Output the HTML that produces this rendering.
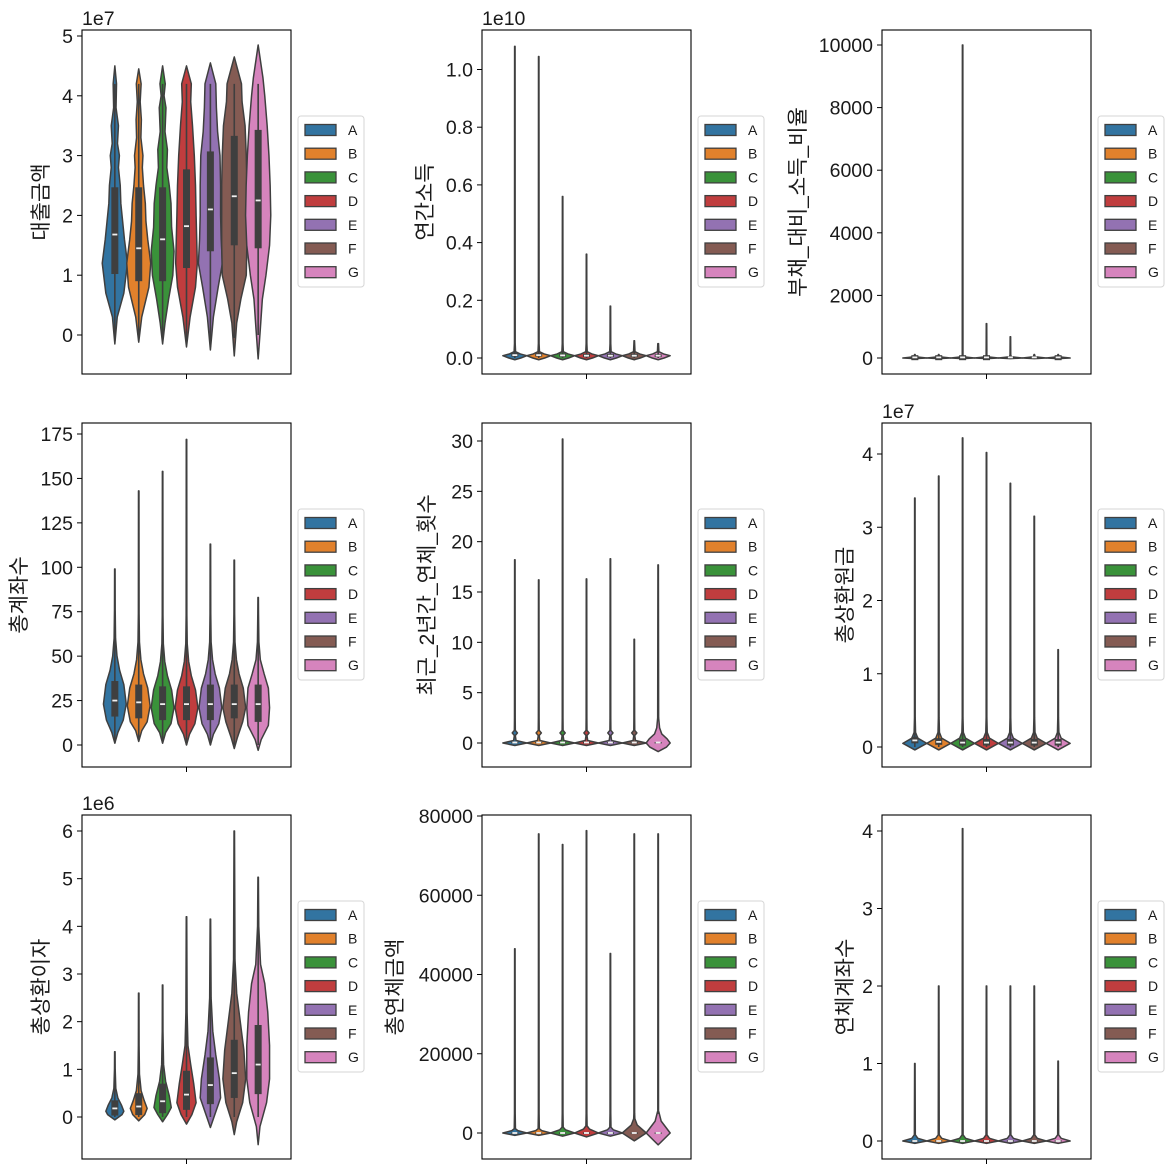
<!DOCTYPE html>
<html><head><meta charset="utf-8">
<style>
html,body{margin:0;padding:0;background:#fff;}
svg{display:block;font-family:"Liberation Sans","Noto Sans CJK KR",sans-serif;}
</style></head>
<body>
<svg id="fig" width="1175" height="1174" viewBox="0 0 1175 1174" xmlns="http://www.w3.org/2000/svg"></svg>
<script>
const categories = ["A","B","C","D","E","F","G"];
const colors = ["#3274a1","#e1812c","#3a923a","#c03d3e","#9372b2","#845b53","#d684bd"];

// ---- panel 1: 대출금액 (1e7)
const p1Ticks = [0,1,2,3,4,5];
const p1Profiles = [
 [[-0.15,0],[0.3,0.2],[0.7,0.75],[1.2,1.05],[1.6,0.8],[1.9,0.65],[2.2,0.5],[2.5,0.45],[2.8,0.3],[3.0,0.38],[3.2,0.22],[3.5,0.3],[3.8,0.1],[4.2,0.14],[4.5,0]],
 [[-0.12,0],[0.3,0.25],[0.8,0.85],[1.2,1.0],[1.6,0.75],[1.9,0.6],[2.2,0.55],[2.5,0.4],[2.8,0.3],[3.0,0.35],[3.3,0.18],[3.6,0.22],[3.9,0.12],[4.2,0.2],[4.45,0]],
 [[-0.15,0],[0.2,0.2],[0.6,0.5],[1.0,0.85],[1.4,0.95],[1.8,0.75],[2.2,0.7],[2.5,0.55],[2.8,0.35],[3.1,0.4],[3.4,0.2],[3.8,0.28],[4.0,0.12],[4.2,0.22],[4.5,0]],
 [[-0.2,0],[0.3,0.3],[0.8,0.75],[1.2,0.9],[1.6,0.85],[2.0,0.8],[2.5,0.75],[3.0,0.65],[3.5,0.5],[3.9,0.35],[4.2,0.4],[4.5,0]],
 [[-0.25,0],[0.3,0.25],[0.8,0.65],[1.2,1.0],[1.6,0.9],[2.0,0.85],[2.5,0.85],[3.0,0.8],[3.4,0.6],[3.8,0.5],[4.2,0.45],[4.55,0]],
 [[-0.35,0],[0.2,0.2],[0.6,0.55],[1.0,1.0],[1.5,1.05],[2.0,1.05],[2.5,1.05],[3.0,1.0],[3.5,0.9],[3.9,0.65],[4.2,0.6],[4.65,0]],
 [[-0.4,0],[0.1,0.18],[0.6,0.35],[1.0,0.65],[1.5,0.95],[2.0,1.05],[2.5,1.0],[3.0,0.9],[3.5,0.75],[4.0,0.55],[4.3,0.4],[4.85,0]]
];
const p1Boxes = [[1.02,1.68,2.47],[0.9,1.45,2.47],[0.9,1.6,2.47],[1.12,1.82,2.77],[1.4,2.1,3.07],[1.5,2.32,3.33],[1.45,2.25,3.43]];
const p1Whisk = [[-0.1,4.2],[-0.1,4.2],[-0.1,4.2],[-0.15,4.2],[-0.2,4.2],[-0.05,4.2],[0.0,4.2]];

// ---- panel 2: 연간소득 (1e10)
const p2Ticks = [0,0.2,0.4,0.6,0.8,1.0];
const p2Max = [1.08,1.045,0.56,0.36,0.18,0.06,0.045];
const p2Boxes = [[0.005,0.01,0.017],[0.005,0.01,0.017],[0.004,0.009,0.015],[0.003,0.008,0.014],[0.003,0.008,0.014],[0.003,0.008,0.014],[0.003,0.008,0.013]];

// ---- panel 3: 부채_대비_소득_비율
const p3Ticks = [0,2000,4000,6000,8000,10000];
const p3Max = [80,80,10000,1100,680,60,80];
const p3Boxes = [[-70,20,90],[-70,20,90],[-70,20,90],[-70,20,90],[10,20,30],[10,20,30],[-70,20,90]];

// ---- panel 4: 총계좌수
const p4Ticks = [0,25,50,75,100,125,150,175];
const p4Max = [99,143,154,172,113,104,83];
const p4Min = [1,2,1,0,0,-2,-3];
const p4Boxes = [[16,25,36],[15,24,34],[14,23,33],[14,23,33],[14,23,34],[15,23,34],[13,23,34]];

// ---- panel 5: 최근_2년간_연체_횟수
const p5Ticks = [0,5,10,15,20,25,30];
const p5Max = [18.2,16.2,30.2,16.3,18.3,10.3,17.7];

// ---- panel 6: 총상환원금 (1e7)
const p6Ticks = [0,1,2,3,4];
const p6Max = [3.4,3.7,4.22,4.02,3.6,3.15,1.33];
const p6Medians = [0.09,0.07,0.06,0.06,0.06,0.06,0.06];

// ---- panel 7: 총상환이자 (1e6)
const p7Ticks = [0,1,2,3,4,5,6];
const p7Profiles = [
 [[-0.06,0],[0.05,0.6],[0.12,0.75],[0.25,0.55],[0.4,0.25],[0.6,0.08],[1.0,0.03],[1.37,0.02]],
 [[-0.08,0],[0.05,0.5],[0.18,0.7],[0.35,0.45],[0.55,0.2],[0.9,0.06],[1.5,0.03],[2.6,0.02]],
 [[-0.1,0],[0.05,0.4],[0.2,0.72],[0.45,0.55],[0.75,0.25],[1.1,0.08],[1.8,0.03],[2.77,0.02]],
 [[-0.15,0],[0.05,0.45],[0.3,0.8],[0.7,0.6],[1.1,0.35],[1.5,0.12],[2.2,0.05],[4.2,0.02]],
 [[-0.22,0],[0.0,0.3],[0.4,0.85],[0.8,0.75],[1.3,0.45],[1.8,0.2],[2.5,0.06],[4.15,0.02]],
 [[-0.37,0],[-0.1,0.2],[0.3,0.7],[0.8,0.95],[1.4,0.8],[2.0,0.5],[2.6,0.2],[3.3,0.06],[6.0,0.02]],
 [[-0.58,0],[-0.2,0.15],[0.3,0.7],[0.8,0.95],[1.5,0.95],[2.2,0.8],[2.8,0.55],[3.2,0.2],[4.0,0.05],[5.03,0.02]]
];
const p7Boxes = [[0.03,0.18,0.35],[0.04,0.22,0.5],[0.08,0.33,0.7],[0.15,0.47,0.97],[0.27,0.67,1.25],[0.4,0.92,1.62],[0.48,1.1,1.93]];

// ---- panel 8: 총연체금액
const p8Ticks = [0,20000,40000,60000,80000];
const p8Max = [46500,75500,72800,76300,45300,75500,75500];
const p8Spread = [600,600,800,1000,800,2000,3000];

// ---- panel 9: 연체계좌수
const p9Ticks = [0,1,2,3,4];
const p9Max = [1.0,2.0,4.03,2.0,2.0,2.0,1.03];

const NS = "http://www.w3.org/2000/svg";
const svg = document.getElementById("fig");
function mk(tag, attrs, parent){ const e=document.createElementNS(NS,tag); for(const k in attrs) e.setAttribute(k,attrs[k]); (parent||svg).appendChild(e); return e; }

const AX_W = 209;
function makeAxis(x0,y0,h,v0,p0,v1,p1){
  const s=(p1-p0)/(v1-v0);
  return {x0,y0,h,y:v=>p0+(v-v0)*s,cx:i=>x0+AX_W*(0.1+0.8/14+i*0.8/7)};
}
const HW = 12;

function drawViolin(g, ax, i, prof, box, whisk, name){
  const cx = ax.cx(i);
  let d="";
  prof.forEach((p,k)=>{ d += (k?"L":"M")+(cx+p[1]*HW).toFixed(2)+","+ax.y(p[0]).toFixed(2); });
  for(let k=prof.length-1;k>=0;k--){ const p=prof[k]; d += "L"+(cx-p[1]*HW).toFixed(2)+","+ax.y(p[0]).toFixed(2); }
  d+="Z";
  const path = mk("path",{d, fill:colors[i], stroke:"#3f3f3f","stroke-width":1.5,"stroke-linejoin":"round"},g);
  
  
  if(whisk){
    const wl = mk("line",{x1:cx,x2:cx,y1:ax.y(whisk[0]),y2:ax.y(whisk[1]),stroke:"#3f3f3f","stroke-width":1.6},g);
    
    
  }
  if(box){
    const yt=ax.y(box[2]), yb=ax.y(box[0]);
    const r = mk("rect",{x:cx-3.5,y:Math.min(yt,yb),width:7,height:Math.max(Math.abs(yb-yt),1.5),fill:"#3f3f3f"},g);
    
    
    const m = mk("line",{x1:cx-2.5,x2:cx+2.5,y1:ax.y(box[1]),y2:ax.y(box[1]),stroke:"#f0f0f0","stroke-width":1.8},g);
    
    
  }
}

function drawFrame(name, ax, ticks, fmt, ylabel, labelX, offset){
  const g = mk("g",{});
  
  
  ticks.forEach(t=>{
    const y=ax.y(t);
    const tl = mk("line",{x1:ax.x0-5,x2:ax.x0,y1:y,y2:y,stroke:"#000","stroke-width":1},g);
    
    
    const tx = mk("text",{x:ax.x0-9,y:y+7,"text-anchor":"end","font-size":19.5,fill:"#1a1a1a"},g);
    tx.textContent = fmt(t);
    
    
  });
  const xt = mk("line",{x1:ax.x0+AX_W/2,x2:ax.x0+AX_W/2,y1:ax.y0+ax.h,y2:ax.y0+ax.h+5,stroke:"#000","stroke-width":1},g);
  
  
  const cy = ax.y0+ax.h/2;
  const yl = mk("text",{x:labelX,y:cy,"text-anchor":"middle","font-size":21,fill:"#1a1a1a",transform:"rotate(-90 "+labelX+" "+cy+")"},g);
  yl.textContent = ylabel;
  
  
  if(offset){
    const ot = mk("text",{x:ax.x0,y:ax.y0-5,"font-size":19.5,fill:"#1a1a1a"},g);
    ot.textContent = offset;
    
    
  }
  const lg = mk("g",{},g);
  
  
  const lx = ax.x0+216, ly = ax.y0+86;
  mk("rect",{x:lx,y:ly,width:66,height:171,rx:3,fill:"#fff",stroke:"#d6d6d6","stroke-width":1},lg);
  categories.forEach((c,i)=>{
    const yy = ly+14+i*23.7;
    const e = mk("g",{},lg);
    
    
    mk("rect",{x:lx+7,y:yy-5.5,width:31,height:11,fill:colors[i],stroke:"#3f3f3f","stroke-width":1.3},e);
    const t = mk("text",{x:lx+50,y:yy+5,"font-size":14,fill:"#1a1a1a"},e);
    t.textContent=c;
  });
  return g;
}

function finishFrame(g, ax){
  const r = mk("rect",{x:ax.x0,y:ax.y0,width:AX_W,height:ax.h,fill:"none",stroke:"#000","stroke-width":1.1},g);
  
  
}

function clip(id, ax){
  const cp = mk("clipPath",{id});
  mk("rect",{x:ax.x0,y:ax.y0,width:AX_W,height:ax.h},cp);
  return "url(#"+id+")";
}

const C=[82,482,882], R=[30,423,815], H=344;
const intFmt = t=>String(t), oneFmt = t=>t.toFixed(1);

(function(){
  const ax = makeAxis(C[0],R[0],H,0,335,5,36);
  const g = drawFrame("loan-amount",ax,p1Ticks,intFmt,"대출금액",48,"1e7");
  const vg = mk("g",{"clip-path":clip("c1",ax)},g);
  categories.forEach((c,i)=>drawViolin(vg,ax,i,p1Profiles[i],p1Boxes[i],p1Whisk[i],"loan-amount"));
  finishFrame(g,ax);
})();
(function(){
  const ax = makeAxis(C[1],R[0],H,0,358,1,69.5);
  const g = drawFrame("annual-income",ax,p2Ticks,oneFmt,"연간소득",432,"1e10");
  const vg = mk("g",{"clip-path":clip("c2",ax)},g);
  categories.forEach((c,i)=>{
    const prof=[[-0.006,0],[0.0,0.5],[0.008,1.0],[0.014,0.45],[0.022,0.06],[0.05,0.03],[p2Max[i],0.02]];
    drawViolin(vg,ax,i,prof,p2Boxes[i],[0,0.03],"annual-income");
  });
  finishFrame(g,ax);
})();
(function(){
  const ax = makeAxis(C[2],R[0],H,0,358,10000,45);
  const g = drawFrame("debt-income-ratio",ax,p3Ticks,intFmt,"부채_대비_소득_비율",805,null);
  const vg = mk("g",{"clip-path":clip("c3",ax)},g);
  categories.forEach((c,i)=>{
    const prof=[[-20,0],[0,1.0],[20,0.5],[40,0.08],[100,0.03],[Math.max(p3Max[i],110),0.02]];
    drawViolin(vg,ax,i,prof,p3Boxes[i],null,"debt-income-ratio");
  });
  finishFrame(g,ax);
})();
(function(){
  const ax = makeAxis(C[0],R[1],H,0,745,175,434);
  const g = drawFrame("total-accounts",ax,p4Ticks,intFmt,"총계좌수",26,null);
  const vg = mk("g",{"clip-path":clip("c4",ax)},g);
  categories.forEach((c,i)=>{
    const lo=p4Min[i], b=p4Boxes[i];
    const prof=[[lo,0],[lo+6,0.25],[b[0]-2,0.7],[b[1]-2,0.95],[b[2]-2,0.75],[b[2]+6,0.4],[b[2]+14,0.18],[b[2]+24,0.06],[b[2]+40,0.03],[p4Max[i],0.02]];
    if(i===6){ prof[2][1]=0.85; prof[4][1]=0.85; prof[5][1]=0.5; }
    drawViolin(vg,ax,i,prof,b,[Math.max(lo,0),b[2]+30],"total-accounts");
  });
  finishFrame(g,ax);
})();
(function(){
  const ax = makeAxis(C[1],R[1],H,0,743,30,441);
  const g = drawFrame("overdue-count",ax,p5Ticks,intFmt,"최근_2년간_연체_횟수",434,null);
  const vg = mk("g",{"clip-path":clip("c5",ax)},g);
  categories.forEach((c,i)=>{
    let prof;
    if(i===6) prof=[[-0.85,0],[-0.4,0.7],[0,1.0],[0.4,0.75],[0.9,0.3],[1.5,0.12],[2.5,0.04],[p5Max[i],0.02]];
    else prof=[[-0.25,0],[0,1.0],[0.25,0.1],[0.75,0.04],[1.0,0.22],[1.25,0.04],[2.5,0.03],[p5Max[i],0.02]];
    drawViolin(vg,ax,i,prof,[0,0.05,0.1],null,"overdue-count");
  });
  finishFrame(g,ax);
})();
(function(){
  const ax = makeAxis(C[2],R[1],H,0,747,4,454);
  const g = drawFrame("total-principal",ax,p6Ticks,intFmt,"총상환원금",852,"1e7");
  const vg = mk("g",{"clip-path":clip("c6",ax)},g);
  categories.forEach((c,i)=>{
    const prof=[[-0.04,0],[0.05,1.0],[0.12,0.25],[0.2,0.06],[0.4,0.03],[p6Max[i],0.02]];
    drawViolin(vg,ax,i,prof,[p6Medians[i]-0.04,p6Medians[i],p6Medians[i]+0.05],[0,0.2],"total-principal");
  });
  finishFrame(g,ax);
})();
(function(){
  const ax = makeAxis(C[0],R[2],H,0,1117,6,831);
  const g = drawFrame("total-interest",ax,p7Ticks,intFmt,"총상환이자",48,"1e6");
  const vg = mk("g",{"clip-path":clip("c7",ax)},g);
  categories.forEach((c,i)=>{
    const b=p7Boxes[i];
    drawViolin(vg,ax,i,p7Profiles[i],b,[0,b[2]+1.5*(b[2]-b[0])],"total-interest");
  });
  finishFrame(g,ax);
})();
(function(){
  const ax = makeAxis(C[1],R[2],H,0,1133,80000,816);
  const g = drawFrame("total-overdue-amount",ax,p8Ticks,intFmt,"총연체금액",402,null);
  const vg = mk("g",{"clip-path":clip("c8",ax)},g);
  categories.forEach((c,i)=>{
    const s=p8Spread[i];
    const prof=[[-s,0],[0,1.0],[s,0.25],[s*1.8,0.05],[5000,0.03],[p8Max[i],0.02]];
    drawViolin(vg,ax,i,prof,[-150,0,150],null,"total-overdue-amount");
  });
  finishFrame(g,ax);
})();
(function(){
  const ax = makeAxis(C[2],R[2],H,0,1141,4,831);
  const g = drawFrame("overdue-accounts",ax,p9Ticks,intFmt,"연체계좌수",852,null);
  const vg = mk("g",{"clip-path":clip("c9",ax)},g);
  categories.forEach((c,i)=>{
    const prof=[[-0.03,0],[0,1.0],[0.035,0.25],[0.08,0.04],[p9Max[i],0.02]];
    drawViolin(vg,ax,i,prof,[-0.005,0,0.01],null,"overdue-accounts");
  });
  finishFrame(g,ax);
})();
</script>
</body></html>
